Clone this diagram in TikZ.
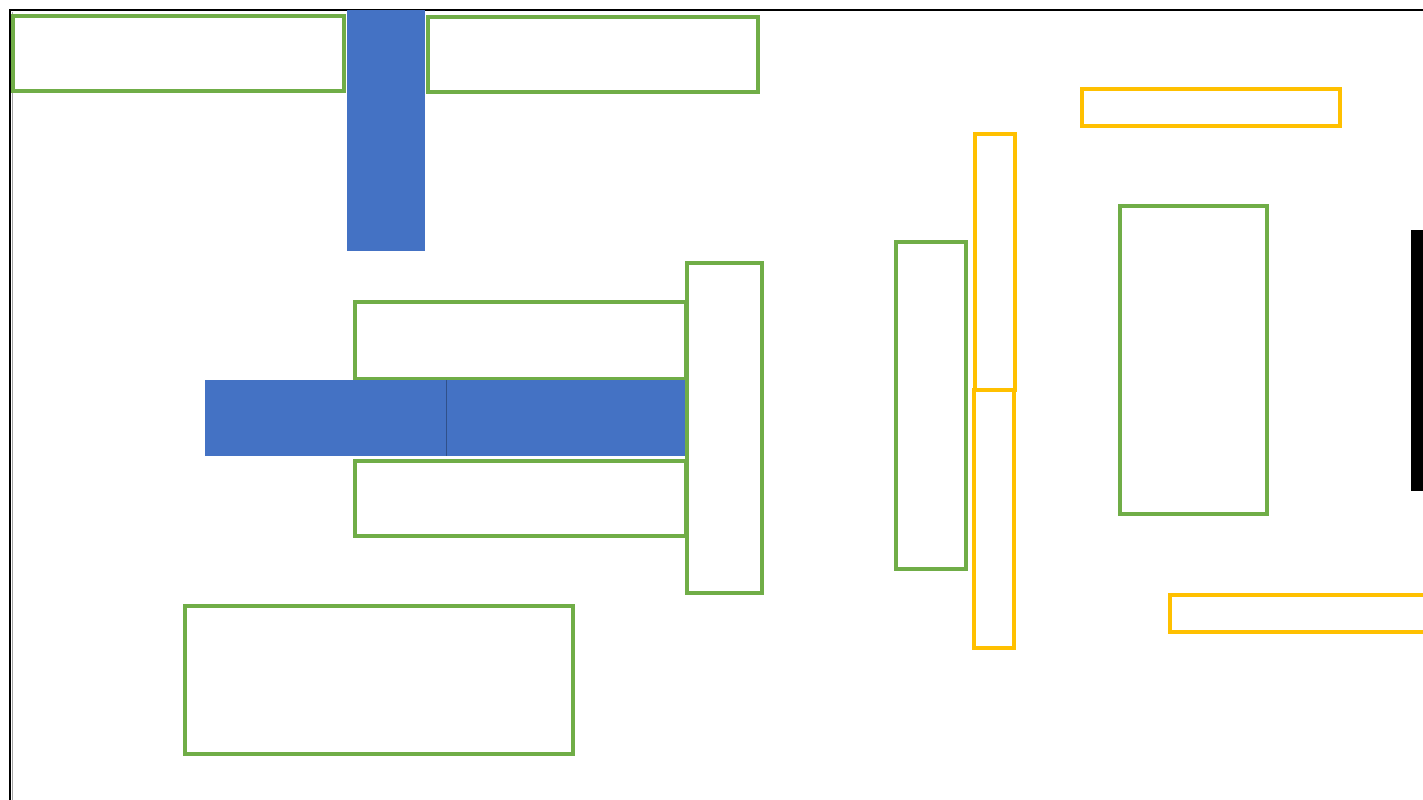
\documentclass[tikz,border=0pt]{standalone}
\usepackage{tikz}
\definecolor{planGreen}{RGB}{112, 173, 71}
\definecolor{planBlue}{RGB}{68, 114, 196}
\definecolor{planGold}{RGB}{255, 192, 0}

\begin{document}
\begin{tikzpicture}[
    x=0.02cm, y=-0.02cm,
    greenbox/.style={draw=planGreen, line width=2.3pt, fill=white},
    goldbox/.style={draw=planGold, line width=2.1pt, fill=white},
    bluebar/.style={fill=planBlue, draw=none},
    blackbar/.style={fill=black, draw=none}
]
    \clip (0, 0) rectangle (1423, 800);
    \fill[white] (0, 0) rectangle (1423, 800);

    % frame
    \draw[black, line width=1pt] (10, 800) -- (10, 10) -- (1423, 10);
    \draw[gray!70, line width=0.6pt] (12.5, 800) -- (12.5, 12.5);

    % left part
    \draw[greenbox] (13, 16) rectangle (344, 91);
    \draw[greenbox] (428, 17) rectangle (758, 92);
    \fill[bluebar] (347, 10) rectangle (425, 251);
    \draw[greenbox] (355, 302) rectangle (686, 379);
    \draw[greenbox] (355, 461) rectangle (686, 536);
    \draw[greenbox] (687, 263) rectangle (762, 593);
    \fill[bluebar] (205, 380) rectangle (446, 456);
    \fill[bluebar] (446, 380) rectangle (685, 456);
    \draw[planBlue!70!black, line width=0.5pt] (446, 380) -- (446, 456);
    \draw[greenbox] (185, 606) rectangle (573, 754);

    % right part
    \draw[greenbox] (896, 242) rectangle (966, 569);
    \draw[goldbox] (975, 134) rectangle (1015, 390);
    \draw[goldbox] (974, 390) rectangle (1014, 648);
    \draw[goldbox] (1082, 89) rectangle (1340, 126);
    \draw[greenbox] (1120, 206) rectangle (1267, 514);
    \draw[goldbox] (1170, 595) rectangle (1440, 632);
    \fill[blackbar] (1411, 230) rectangle (1440, 491);
\end{tikzpicture}
\end{document}
